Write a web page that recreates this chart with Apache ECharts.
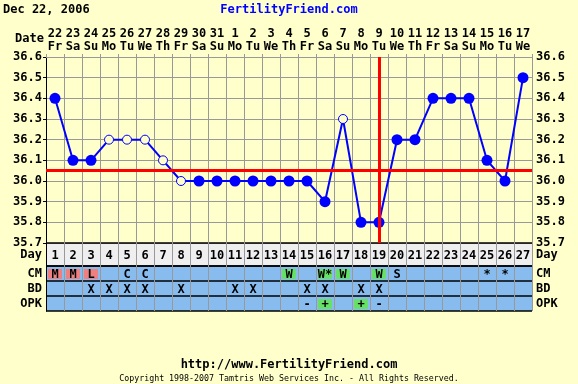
<!DOCTYPE html>
<html><head><meta charset="utf-8">
<script src="https://cdn.jsdelivr.net/npm/echarts@6/dist/echarts.min.js"></script>
<style>html,body{margin:0;padding:0;background:#ffffcc;}#c{width:578px;height:384px;}</style>
</head><body><div id="c"></div>
<script>
// ---- data ----
const cycleDays = ['1','2','3','4','5','6','7','8','9','10','11','12','13','14','15','16','17','18','19','20','21','22','23','24','25','26','27'];
const dateNums = ['22','23','24','25','26','27','28','29','30','31','1','2','3','4','5','6','7','8','9','10','11','12','13','14','15','16','17'];
const weekDays = ['Fr','Sa','Su','Mo','Tu','We','Th','Fr','Sa','Su','Mo','Tu','We','Th','Fr','Sa','Su','Mo','Tu','We','Th','Fr','Sa','Su','Mo','Tu','We'];
const temps = [36.4,36.1,36.1,36.2,36.2,36.2,36.1,36.0,36.0,36.0,36.0,36.0,36.0,36.0,36.0,35.9,36.3,35.8,35.8,36.2,36.2,36.4,36.4,36.4,36.1,36.0,36.5];
const openPoint = [0,0,0,1,1,1,1,1,0,0,0,0,0,0,0,0,1,0,0,0,0,0,0,0,0,0,0];
const coverline = 36.05;
const ovulationDay = '19';
const tempTicks = {min: 35.7, max: 36.6, step: 0.1};
const rowNames = ['CM','BD','OPK'];
const cmValues  = ['M','M','L','','C','C','','','','','','','','W','','W*','W','','W','S','','','','','*','*',''];
const bdValues  = ['','','X','X','X','X','','X','','','X','X','','','X','X','','X','X','','','','','','','',''];
const opkValues = ['','','','','','','','','','','','','','','-','+','','+','-','','','','','','','',''];
const headerDate = 'Dec 22, 2006';
const headerSite = 'FertilityFriend.com';
const footerUrl = 'http://www.FertilityFriend.com';
const footerCopy = 'Copyright 1998-2007 Tamtris Web Services Inc. - All Rights Reserved.';

// ---- styling ----
const BG = '#ffffcc', GRID = '#999999', BLUE = '#0000ff', RED = '#ff0000';
const FONT = 'DejaVu Sans Mono';
const cellFill = {'M':'#f08080','L':'#f08080','H':'#f08080','W':'#66e066','W*':'#66e066','+':'#66e066'};

const rowValues = [cmValues, bdValues, opkValues];
const cells = [];
rowValues.forEach((arr, r) => arr.forEach((t, i) => { if (t) cells.push({x:i, y:r, text:t}); }));
const dayCells = cycleDays.map((d, i) => ({x:i, y:0, text:d}));

function makeRender(list) {
  return function (params, api) {
    const cell = list[params.dataIndex];
    const c = api.coord([cell.x, cell.y]);
    const s = api.size([1, 1]);
    const children = [];
    const fill = cellFill[cell.text];
    if (fill && list === cells) {
      children.push({type:'rect', shape:{x:c[0]-s[0]/2+2, y:c[1]-s[1]/2+3, width:s[0]-4, height:s[1]-5}, style:{fill:fill}});
    }
    children.push({type:'text', style:{text:cell.text, x:c[0], y:c[1]+1, align:'center', verticalAlign:'middle', font:'bold 12px "' + FONT + '"', fill:'#000'}});
    return {type:'group', children:children};
  };
}

const lineData = temps.map((t, i) => openPoint[i]
  ? {value:t, symbol:'circle', symbolSize:9, itemStyle:{color:BG, borderColor:BLUE, borderWidth:1}}
  : {value:t, symbol:'circle', symbolSize:11, itemStyle:{color:BLUE, borderWidth:0}});

const lbl = {color:'#000', fontFamily:FONT, fontWeight:'bold', fontSize:12};
const L = 46, W = 486;

const option = {
  backgroundColor: BG,
  animation: false,
  grid: [
    {left:L, top:57, width:W, height:186},
    {left:L, top:243, width:W, height:23, show:true, backgroundColor:'#efefef', borderWidth:0},
    {left:L, top:266, width:W, height:45, show:true, backgroundColor:'#88bbee', borderWidth:0}
  ],
  xAxis: [
    {gridIndex:0, type:'category', data:cycleDays, position:'top', boundaryGap:true,
     axisLine:{lineStyle:{color:GRID}}, axisTick:{show:true, interval:0, length:3, lineStyle:{color:GRID}},
     axisLabel:Object.assign({interval:0, margin:4, lineHeight:13, formatter:(v, i) => dateNums[i] + '\n' + weekDays[i]}, lbl),
     splitLine:{show:true, interval:0, lineStyle:{color:GRID}}},
    {gridIndex:1, type:'category', data:cycleDays, boundaryGap:true, axisLine:{show:false}, axisTick:{show:false}, axisLabel:{show:false},
     splitLine:{show:true, interval:0, lineStyle:{color:GRID}}},
    {gridIndex:2, type:'category', data:cycleDays, boundaryGap:true, axisLine:{show:false}, axisTick:{show:false}, axisLabel:{show:false},
     splitLine:{show:true, interval:0, lineStyle:{color:GRID}}}
  ],
  yAxis: [
    {gridIndex:0, type:'value', position:'left', min:tempTicks.min, max:tempTicks.max, interval:tempTicks.step,
     axisLine:{show:true, lineStyle:{color:'#000'}}, axisTick:{show:true, length:3, lineStyle:{color:'#000'}},
     axisLabel:Object.assign({margin:4, formatter:v => v.toFixed(1)}, lbl), splitLine:{show:true, lineStyle:{color:GRID}}},
    {gridIndex:0, type:'value', position:'right', min:tempTicks.min, max:tempTicks.max, interval:tempTicks.step,
     axisLine:{show:false}, axisTick:{show:false},
     axisLabel:Object.assign({margin:4, formatter:v => v.toFixed(1)}, lbl), splitLine:{show:false}},
    {gridIndex:1, type:'category', data:['Day'], position:'left', axisLine:{show:true, lineStyle:{color:'#000'}}, axisTick:{show:false},
     axisLabel:Object.assign({margin:4, interval:0}, lbl), splitLine:{show:true, interval:0, lineStyle:{color:'#000', width:1.5}}},
    {gridIndex:1, type:'category', data:['Day'], position:'right', axisLine:{show:false}, axisTick:{show:false},
     axisLabel:Object.assign({margin:4, interval:0}, lbl), splitLine:{show:false}},
    {gridIndex:2, type:'category', data:rowNames, inverse:true, position:'left', axisLine:{show:true, lineStyle:{color:'#000'}}, axisTick:{show:false},
     axisLabel:Object.assign({margin:4, interval:0}, lbl), splitLine:{show:true, interval:0, lineStyle:{color:'#000', width:1.5}}},
    {gridIndex:2, type:'category', data:rowNames, inverse:true, position:'right', axisLine:{show:false}, axisTick:{show:false},
     axisLabel:Object.assign({margin:4, interval:0}, lbl), splitLine:{show:false}}
  ],
  graphic: [
    {type:'text', left:3, top:4, style:{text:headerDate, font:'bold 12px "' + FONT + '"', fill:'#000'}},
    {type:'text', left:'center', top:4, style:{text:headerSite, font:'bold 12px "' + FONT + '"', fill:BLUE}},
    {type:'text', left:15, top:33, style:{text:'Date', font:'bold 12px "' + FONT + '"', fill:'#000'}},
    {type:'text', left:'center', top:359, style:{text:footerUrl, font:'bold 12px "' + FONT + '"', fill:'#000'}},
    {type:'text', left:'center', top:375, style:{text:footerCopy, font:'8.3px "' + FONT + '"', fill:'#000'}}
  ],
  series: [
    {type:'line', xAxisIndex:0, yAxisIndex:0, data:lineData, lineStyle:{color:BLUE, width:2}, z:3, silent:true},
    {type:'line', xAxisIndex:0, yAxisIndex:0, data:[], z:5, silent:true,
     markLine:{silent:true, symbol:'none', label:{show:false}, lineStyle:{color:RED, width:3, type:'solid'},
       data:[{yAxis:coverline}, {xAxis:ovulationDay}]}},
    {type:'custom', xAxisIndex:1, yAxisIndex:2, data:dayCells.map(c => [c.x, c.y]), renderItem:makeRender(dayCells), z:4, silent:true},
    {type:'custom', xAxisIndex:2, yAxisIndex:4, data:cells.map(c => [c.x, c.y]), renderItem:makeRender(cells), z:4, silent:true}
  ]
};
echarts.init(document.getElementById('c')).setOption(option);
</script></body></html>
